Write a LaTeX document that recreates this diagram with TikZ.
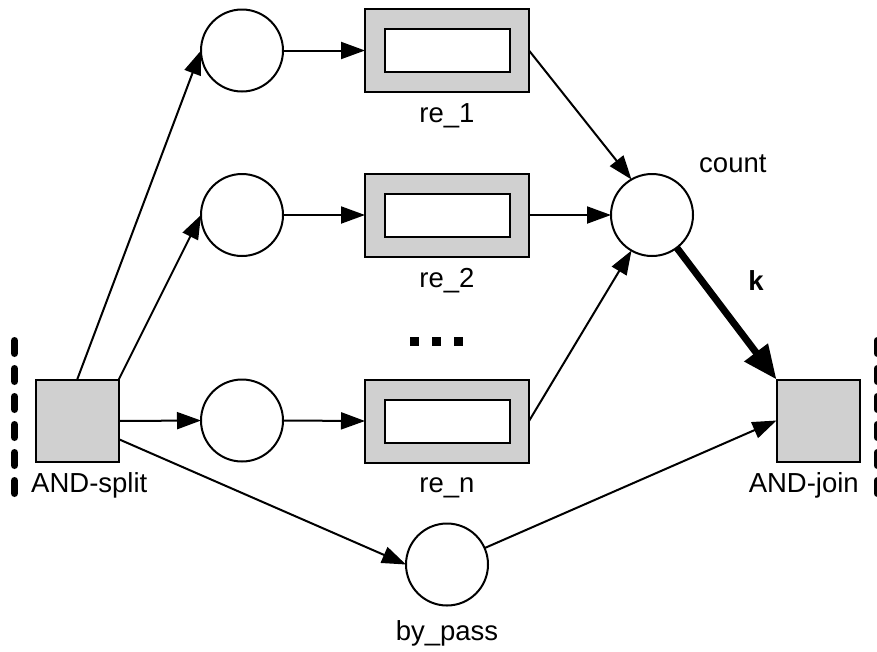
\documentclass[tikz,border=0pt]{standalone}
\usepackage{fontspec}
\setmainfont{Liberation Sans}
\usetikzlibrary{arrows.meta}
\definecolor{tokengray}{RGB}{208,208,208}

\begin{document}
\begin{tikzpicture}[x=1pt,y=-1pt,
  every node/.style={font=\fontsize{27.5}{33}\selectfont},
  place/.style={circle,draw,line width=2pt,minimum size=82pt,inner sep=0pt,outer sep=0pt,fill=white},
  gate/.style={rectangle,draw,line width=2pt,fill=tokengray,minimum width=83pt,minimum height=82pt,inner sep=0pt,outer sep=0pt},
  activity/.style={rectangle,draw,line width=2pt,fill=tokengray,minimum width=164pt,minimum height=83pt,inner sep=0pt,outer sep=0pt,
    path picture={\draw[line width=2pt,fill=white]
      ([xshift=-62.5pt,yshift=-21.5pt]path picture bounding box.center) rectangle
      ([xshift=62.5pt,yshift=21.5pt]path picture bounding box.center);}},
  flow/.style={line width=2pt,-{Triangle[length=24pt,width=17pt]}},
  heavy/.style={line width=7pt,-{Triangle[length=34pt,width=28pt]}},
  tag/.style={inner sep=0pt,anchor=base},
  boundary/.style={line width=7pt,line cap=round,dash pattern=on 13pt off 15pt}
]
\useasboundingbox (0,0) rectangle (877,651);

% subprocess boundaries
\draw[boundary] (14.5,340.5) -- (14.5,494);
\draw[boundary] (877,340.5) -- (877,494);

% split and join transitions
\node[gate] (split) at (77,421) {};
\node[gate] (join) at (818,420.5) {};
\node[tag,anchor=base west] (splitlbl) at (31,492) {AND-split};
\node[tag,anchor=base east] (joinlbl) at (859,492) {AND-join};

% input places of the parallel branches
\node[place] (p1) at (242,50.5) {};
\node[place] (p2) at (242,215) {};
\node[place] (p3) at (242,420.5) {};

% activity subprocesses
\node[activity] (re1) at (447,50.5) {};
\node[activity] (re2) at (447,215) {};
\node[activity] (ren) at (447,421) {};
\node[tag] (re1lbl) at (447,122) {re\_1};
\node[tag] (re2lbl) at (447,287) {re\_2};
\node[tag] (renlbl) at (447,492) {re\_n};

% ellipsis between branches
\fill (410,337) rectangle (419,346);
\fill (432,337) rectangle (441,346);
\fill (454,337) rectangle (463,346);

% counter place and bypass
\node[place] (count) at (652,215) {};
\node[tag,anchor=base west] (countlbl) at (699,172) {count};
\node[place] (bp) at (447,564.5) {};
\node[tag] (bplbl) at (447,640) {by\_pass};

% arcs
\draw[flow] (split.north) -- (p1.west);
\draw[flow] (split.north east) -- (p2.west);
\draw[flow] (split.east) -- (p3.west);
\draw[flow] (split) -- (bp.west);
\draw[flow] (p1.east) -- (re1.west);
\draw[flow] (p2.east) -- (re2.west);
\draw[flow] (p3.east) -- (ren.west);
\draw[flow] (re1.east) -- (count.120);
\draw[flow] (re2.east) -- (count.west);
\draw[flow] (ren.east) -- (count.240);
\draw[flow] (bp) -- (join.west);
\draw[heavy] (count) -- (join.north west);
\node[tag] (klbl) at (756,290) {\bfseries k};
\end{tikzpicture}
\end{document}
